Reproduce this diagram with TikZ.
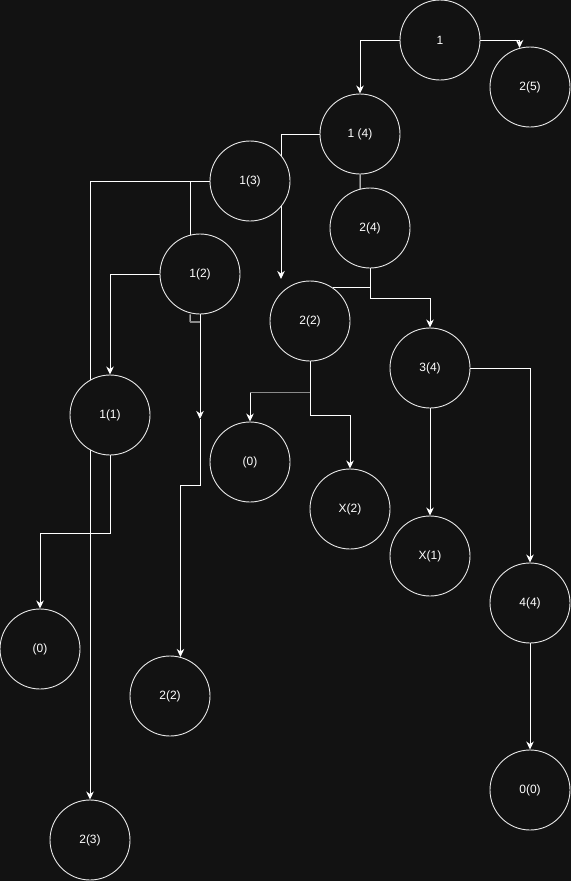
\documentclass[tikz,border=0pt]{standalone}
\usepackage{fontspec}
\setmainfont{Liberation Sans}
\usetikzlibrary{arrows.meta}
\definecolor{bgc}{HTML}{121212}
\definecolor{strokec}{HTML}{E8E8E8}
\definecolor{greyc}{HTML}{8A8A8A}
\pgfdeclarelayer{bglayer}
\pgfdeclarelayer{edgelayer}
\pgfsetlayers{bglayer,edgelayer,main}
\tikzset{
  state/.style={circle, draw=strokec, fill=bgc, line width=0.9pt, minimum size=80pt, inner sep=0pt,
    text=white, font=\fontsize{12}{14}\selectfont},
  link/.style={draw=white, line width=1pt},
  arr/.style={link, -{Stealth[length=8pt,width=7.5pt,inset=2.5pt]}},
  greylink/.style={draw=greyc, line width=1.6pt}
}
\begin{document}
\begin{tikzpicture}[x=1pt,y=-1pt]
\begin{pgfonlayer}{bglayer}
\fill[bgc] (0,0) rectangle (571,881);
\end{pgfonlayer}
\useasboundingbox (0,0) rectangle (571,881);

\node[state] (n1)   at (440,40)  {1};
\node[state] (n25)  at (530,87)  {2(5)};
\node[state] (n14)  at (360,134) {1 (4)};
\node[state] (n13)  at (250,181) {1(3)};
\node[state] (n24)  at (370,228) {2(4)};
\node[state] (n12)  at (200,274) {1(2)};
\node[state] (n22a) at (310,321) {2(2)};
\node[state] (n34)  at (430,368) {3(4)};
\node[state] (n11)  at (110,415) {1(1)};
\node[state] (n0a)  at (250,462) {(0)};
\node[state] (nX2)  at (350,509) {X(2)};
\node[state] (nX1)  at (430,556) {X(1)};
\node[state] (n44)  at (530,603) {4(4)};
\node[state] (n0b)  at (40,649)  {(0)};
\node[state] (n22b) at (170,696) {2(2)};
\node[state] (n00)  at (530,790) {0(0)};
\node[state] (n23)  at (90,840)  {2(3)};

\coordinate (c1) at (281,279);
\coordinate (c2) at (200,419);
\coordinate (c3) at (190,322);

\begin{pgfonlayer}{edgelayer}
\draw[arr] (n1.east) -| (n25.105);
\draw[arr] (n1.west) -| (n14.north);
\draw[arr] (n14.west) -| (c1);
\draw[link] (n14.south) -- (n24.104);
\draw[arr] (n24.south) -- ++(0,30) -| (n34.north);
\draw[link] (n22a.56) -| (n24.south);
\draw[arr] (n13.west) -| (n23.north);
\draw[link] (n12.104.5) |- (n13.west);
\draw[arr] (n12.west) -| (n11.north);
\draw[arr] (n12.south) -- (c2);
\draw[link] (n12.104.5 |- n12.south) -- (c3);
\draw[greylink] (c3) -- (c3 -| n12.south);
\draw[arr] (c2) -- ++(0,66) -| (n22b.75);
\draw[arr] (n11.south) -- ++(0,78) -| (n0b.north);
\draw[arr] (n22a.south) -- ++(0,31) -| (n0a.north);
\draw[greylink] (n22a.south) ++(0,31) -- ++(-60,0);
\draw[arr] (n22a.south) -- ++(0,54) -| (nX2.north);
\draw[arr] (n34.south) -- (nX1.north);
\draw[arr] (n34.east) -| (n44.north);
\draw[arr] (n44.south) -- (n00.north);
\end{pgfonlayer}
\end{tikzpicture}
\end{document}
